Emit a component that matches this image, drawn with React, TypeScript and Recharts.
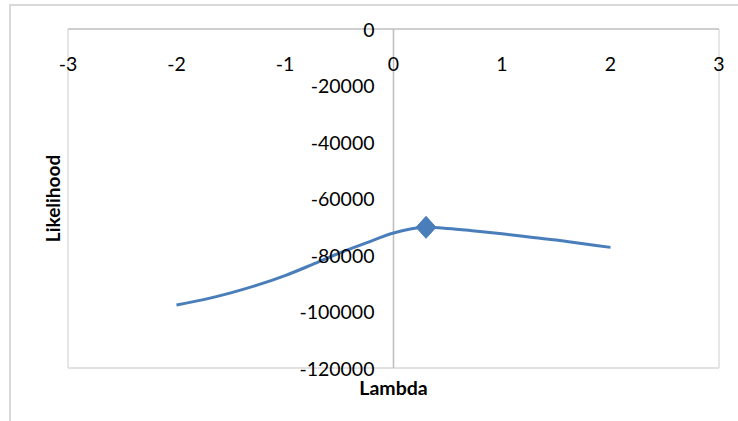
import React from 'react';
import {
  ComposedChart,
  Line,
  Scatter,
  XAxis,
  YAxis,
  CartesianGrid,
  ReferenceLine,
  Label,
} from 'recharts';

// ---- data ----
const lambdaValues = [-2, -1.75, -1.5, -1.25, -1, -0.75, -0.5, -0.25, 0, 0.3, 0.5, 0.75, 1, 1.25, 1.5, 1.75, 2];
const likelihoodValues = [
  -97700, -95800, -93400, -90600, -87300, -83400, -79300, -75700, -72200, -70200, -70600, -71500, -72500, -73600,
  -74700, -76000, -77300,
];
const optimumLambda = [0.3];
const optimumLikelihood = [-70200];
const xTicks = [-3, -2, -1, 0, 1, 2, 3];
const yTicks = [0, -20000, -40000, -60000, -80000, -100000, -120000];

const curveData = lambdaValues.map((x, i) => ({ x, y: likelihoodValues[i] }));
const optimumData = optimumLambda.map((x, i) => ({ x, y: optimumLikelihood[i] }));
const yLabelData = yTicks.map((v) => ({ x: 0, y: v, label: String(v) }));
const xLabelData = xTicks.map((v) => ({ x: v, y: 0, label: String(v) }));

const FONT = 'Lato, "Open Sans", sans-serif';
const BLUE = '#4a7ebb';

const YLabel = (props: any) => {
  const { cx, cy, payload } = props;
  return (
    <text x={cx - 19} y={cy} textAnchor="end" dominantBaseline="central" fontFamily={FONT} fontSize={19.5} fill="#000">
      {payload.label}
    </text>
  );
};

const XLabel = (props: any) => {
  const { cx, cy, payload } = props;
  return (
    <text x={cx} y={cy + 34} textAnchor="middle" dominantBaseline="central" fontFamily={FONT} fontSize={19.5} fill="#000">
      {payload.label}
    </text>
  );
};

const Diamond = (props: any) => {
  const { cx, cy } = props;
  return (
    <polygon
      points={`${cx},${cy - 11} ${cx + 10},${cy} ${cx},${cy + 11} ${cx - 10},${cy}`}
      fill={BLUE}
      stroke={BLUE}
    />
  );
};

export default function App() {
  return (
    <div style={{ position: 'absolute', left: 0, top: 0, width: 738, height: 421, overflow: 'hidden', background: '#fff' }}>
      <div
        style={{
          position: 'absolute',
          left: 9,
          top: 4,
          width: 800,
          height: 500,
          border: '2px solid #d9d9d9',
          boxSizing: 'border-box',
        }}
      />
      <div style={{ position: 'absolute', left: 0, top: 0 }}>
        <ComposedChart width={738} height={421} margin={{ top: 29, right: 19, left: 0, bottom: 0 }}>
          <CartesianGrid stroke="#d9d9d9" strokeWidth={1.3} />
          <XAxis
            dataKey="x"
            type="number"
            domain={[-3, 3]}
            ticks={xTicks}
            height={53}
            axisLine={false}
            tickLine={false}
            tick={false}
          >
            <Label
              content={(p: any) => {
                const vb = p.viewBox;
                return (
                  <text
                    x={vb.x + vb.width / 2}
                    y={vb.y + 19}
                    textAnchor="middle"
                    dominantBaseline="central"
                    fontFamily={FONT}
                    fontWeight="bold"
                    fontSize={19.5}
                    fill="#000"
                  >
                    Lambda
                  </text>
                );
              }}
            />
          </XAxis>
          <YAxis
            dataKey="y"
            type="number"
            domain={[-120000, 0]}
            ticks={yTicks}
            width={68}
            axisLine={false}
            tickLine={false}
            tick={false}
          >
            <Label
              content={(p: any) => {
                const vb = p.viewBox;
                const cx = vb.x + 52;
                const cy = vb.y + vb.height / 2;
                return (
                  <text
                    x={cx}
                    y={cy}
                    transform={`rotate(-90 ${cx} ${cy})`}
                    textAnchor="middle"
                    dominantBaseline="central"
                    fontFamily={FONT}
                    fontWeight="bold"
                    fontSize={19}
                    fill="#000"
                  >
                    Likelihood
                  </text>
                );
              }}
            />
          </YAxis>
          <ReferenceLine y={0} stroke="#c8c8c8" strokeWidth={1.5} />
          <ReferenceLine x={0} stroke="#bfbfbf" strokeWidth={1.6} />
          <Scatter data={yLabelData} dataKey="y" shape={YLabel} isAnimationActive={false} />
          <Scatter data={xLabelData} dataKey="y" shape={XLabel} isAnimationActive={false} />
          <Line
            data={curveData}
            dataKey="y"
            type="monotone"
            stroke={BLUE}
            strokeWidth={3}
            dot={false}
            activeDot={false}
            isAnimationActive={false}
          />
          <Scatter data={optimumData} dataKey="y" shape={Diamond} isAnimationActive={false} />
        </ComposedChart>
      </div>
    </div>
  );
}
